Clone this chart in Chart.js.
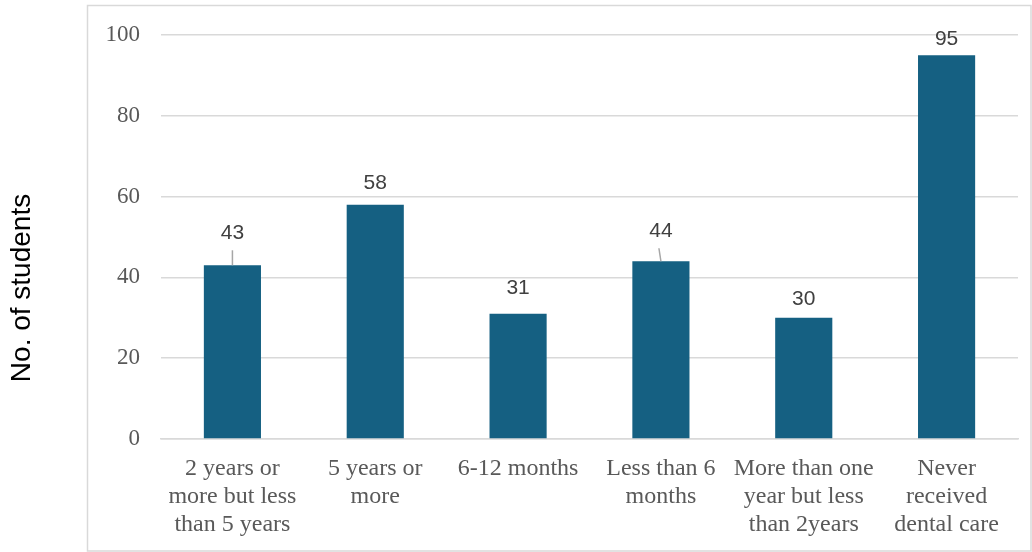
<!DOCTYPE html>
<html>
<head>
<meta charset="utf-8">
<script src="https://cdn.jsdelivr.net/npm/chart.js@4/dist/chart.umd.min.js"></script>
<style>
  html, body { margin: 0; padding: 0; background: #fff; }
  .chart-box { width: 1032px; height: 552px; }
</style>
</head>
<body>
<div class="chart-box"><canvas id="chart"></canvas></div>
<script>
const categories = [
  ['2 years or', 'more but less', 'than 5 years'],
  ['5 years or', 'more'],
  '6-12 months',
  ['Less than 6', 'months'],
  ['More than one', 'year but less', 'than 2years'],
  ['Never', 'received', 'dental care'],
];
const students = [43, 58, 31, 44, 30, 95];
const yTicks = [0, 20, 40, 60, 80, 100];
const yTitle = 'No. of students';

// labels that Excel pushed up, with a little leader line
const labelGap = [26, 16, 20, 24, 13, 10];
const leaders = [true, false, false, true, false, false];

const frame = {
  id: 'frame',
  beforeDraw(chart) {
    const ctx = chart.ctx;
    ctx.save();
    ctx.strokeStyle = '#d9d9d9';
    ctx.lineWidth = 1.5;
    ctx.strokeRect(87.5, 5.5, 943.5, 545.5);
    ctx.restore();
  },
  afterDraw(chart) {
    const ctx = chart.ctx;
    ctx.save();
    ctx.translate(22.5, 288);
    ctx.rotate(-Math.PI / 2);
    ctx.font = "28px 'Liberation Sans', Arial, sans-serif";
    ctx.fillStyle = '#000000';
    ctx.textAlign = 'center';
    ctx.textBaseline = 'middle';
    ctx.fillText(yTitle, 0, 0);
    ctx.restore();
  },
};

const valueLabels = {
  id: 'valueLabels',
  afterDatasetsDraw(chart) {
    const ctx = chart.ctx;
    const meta = chart.getDatasetMeta(0);
    ctx.save();
    ctx.font = "21px 'Liberation Sans', Arial, sans-serif";
    ctx.fillStyle = '#404040';
    ctx.textAlign = 'center';
    ctx.textBaseline = 'alphabetic';
    meta.data.forEach((bar, i) => {
      const base = bar.y - labelGap[i];
      if (leaders[i]) {
        ctx.strokeStyle = '#a6a6a6';
        ctx.lineWidth = 1.5;
        ctx.beginPath();
        ctx.moveTo(bar.x - (i == 3 ? 2 : 0), base + 11);
        ctx.lineTo(bar.x, bar.y);
        ctx.stroke();
      }
      ctx.fillText(String(students[i]), bar.x, base);
    });
    ctx.restore();
  },
};

new Chart(document.getElementById('chart'), {
  type: 'bar',
  data: {
    labels: categories,
    datasets: [
      {
        data: students,
        backgroundColor: '#156082',
        categoryPercentage: 1,
        barPercentage: 0.4,
      },
    ],
  },
  options: {
    responsive: true,
    maintainAspectRatio: false,
    animation: false,
    layout: {
      padding: { top: 35, right: 14, left: 0, bottom: 0 },
    },
    plugins: {
      legend: { display: false },
      tooltip: { enabled: false },
    },
    scales: {
      x: {
        grid: { display: false },
        border: { color: '#d9d9d9', width: 1.5 },
        ticks: {
          color: '#595959',
          padding: 8,
          maxRotation: 0,
          autoSkip: false,
          font: { family: "'Liberation Serif', 'Times New Roman', serif", size: 24, lineHeight: 1.17 },
        },
        afterFit(scale) {
          scale.height = 113;
        },
      },
      y: {
        min: 0,
        max: 100,
        afterBuildTicks(scale) {
          scale.ticks = yTicks.map((v) => ({ value: v }));
        },
        grid: { color: '#d9d9d9', lineWidth: 1.5, drawTicks: false },
        border: { display: false },
        ticks: {
          color: '#595959',
          padding: 21,
          font: { family: "'Liberation Serif', 'Times New Roman', serif", size: 23 },
        },
        afterFit(scale) {
          scale.width = 161;
        },
      },
    },
  },
  plugins: [frame, valueLabels],
});
</script>
</body>
</html>
